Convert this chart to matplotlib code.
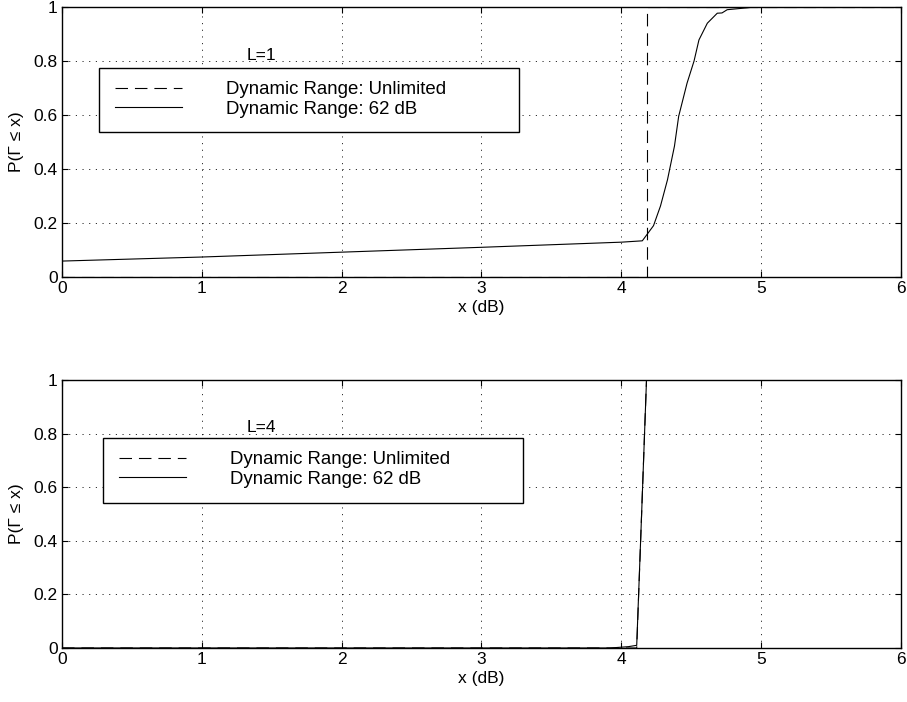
import matplotlib as mpl
mpl.use('Agg')
import matplotlib.pyplot as plt
from matplotlib.patches import Rectangle
from matplotlib.ticker import FormatStrFormatter

plt.rcParams['font.family'] = ['Liberation Sans', 'DejaVu Sans']
plt.rcParams['lines.scale_dashes'] = False

# L=1 panel
l1_x_62db = [0, 1, 2, 3, 4, 4.15, 4.23, 4.28, 4.33, 4.38, 4.41, 4.47, 4.52,
             4.555, 4.615, 4.686, 4.72, 4.757, 4.90, 4.95, 6]
l1_y_62db = [0.059, 0.074, 0.092, 0.11, 0.129, 0.134, 0.19, 0.263, 0.36, 0.485,
             0.595, 0.718, 0.80, 0.878, 0.94, 0.977, 0.978, 0.99, 0.997, 1.0, 1.0]
l1_x_unl = [0, 4.18, 4.18, 6]
l1_y_unl = [0, 0, 1, 1]

# L=4 panel
l4_x_62db = [0, 3.92, 4.05, 4.11, 4.145, 4.18, 6]
l4_y_62db = [0, 0.0, 0.005, 0.01, 0.5, 1.0, 1.0]
l4_x_unl = [0, 4.11, 4.145, 4.18, 6]
l4_y_unl = [0, 0, 0.5, 1.0, 1.0]

xticks = [0, 1, 2, 3, 4, 5, 6]
yticks = [0, 0.2, 0.4, 0.6, 0.8, 1]
labels = ['Dynamic Range: Unlimited', 'Dynamic Range: 62 dB']

W, H = 907, 702
fig = plt.figure(figsize=(W / 100, H / 100), dpi=100)


def box(l, t, r, b):  # pixel box -> figure fraction
    return [l / W, 1 - b / H, (r - l) / W, (b - t) / H]


def panel(rect, xu, yu, x62, y62, tag, legbox):
    ax = fig.add_axes(rect)
    ax.plot(xu, yu, color='k', lw=0.8, linestyle=(0, (9, 5)), label=labels[0])
    ax.plot(x62, y62, color='k', lw=0.8, label=labels[1])
    ax.set_xlim(0, 6)
    ax.set_ylim(0, 1)
    ax.set_xticks(xticks)
    ax.set_yticks(yticks)
    ax.yaxis.set_major_formatter(FormatStrFormatter('%g'))
    ax.grid(True, color='k', lw=0.6, linestyle=(0, (0.8, 4)))
    ax.tick_params(direction='in', top=True, right=True, length=4, width=0.8,
                   labelsize=12.5, pad=3)
    for s in ax.spines.values():
        s.set_linewidth(1.0)
    ax.set_xlabel('x (dB)', fontsize=12.5, labelpad=3)
    ax.set_ylabel('P(\u0393 \u2264 x)', fontsize=12.5, labelpad=7)
    ax.text(1.32, 0.805, tag, fontsize=12.5, va='baseline')
    l, t, r, b = legbox
    fr = Rectangle((l / W, 1 - b / H), (r - l) / W, (b - t) / H,
                   transform=fig.transFigure, facecolor='white',
                   edgecolor='k', lw=1.0, zorder=4)
    ax.add_patch(fr)
    leg = ax.legend(loc='upper left', bbox_to_anchor=((l + 16) / W, 1 - (t + 13) / H),
                    bbox_transform=fig.transFigure, frameon=False, fontsize=13.4,
                    handlelength=3.6, handletextpad=2.35, labelspacing=0.15,
                    borderpad=0, borderaxespad=0)
    leg.set_zorder(5)
    return ax


panel(box(62, 7, 901, 277), l1_x_unl, l1_y_unl, l1_x_62db, l1_y_62db, 'L=1',
      (99, 68, 519, 132))
panel(box(62, 380, 901, 648), l4_x_unl, l4_y_unl, l4_x_62db, l4_y_62db, 'L=4',
      (103, 438, 523, 503))

fig.savefig('out.png', dpi=100)
